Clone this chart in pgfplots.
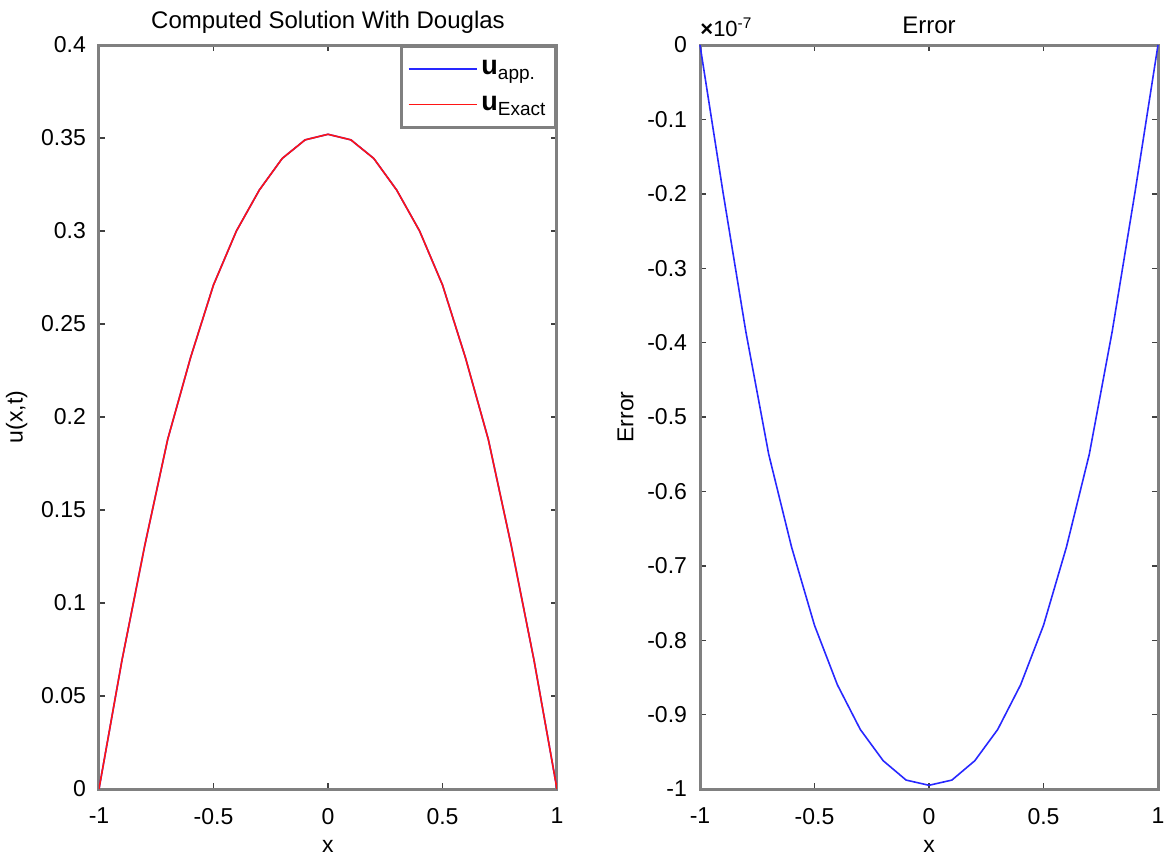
\documentclass[border=0pt]{standalone}
\usepackage{fontspec}
\setmainfont{Liberation Sans}
\usepackage{pgfplots}
\pgfplotsset{compat=1.18}
\definecolor{axgray}{RGB}{128,128,128}
\definecolor{ublue}{RGB}{40,40,255}
\definecolor{ured}{RGB}{255,20,20}
\pgfplotsset{mlab/.style={
  scale only axis, width=229pt, height=372pt,
  axis line style={axgray, line width=1.5pt},
  tick style={black!75, line width=0.7pt},
  major tick length=3pt,
  tick align=inside,
  xtick pos=both, ytick pos=both,
  xticklabel pos=bottom, yticklabel pos=left,
  xmin=-1, xmax=1,
  xtick={-1,-0.5,0,0.5,1},
  xticklabels={-1,-0.5,0,0.5,1},
  tick label style={font=\fontsize{11.5}{13}\selectfont},
  label style={font=\fontsize{11.5}{13}\selectfont},
  title style={font=\fontsize{12}{14}\selectfont, yshift=-4pt},
  xticklabel style={yshift=-6pt},
  yticklabel style={xshift=-3pt},
  xlabel={x},
  xlabel style={yshift=-1pt},
}}
\begin{document}
\begin{tikzpicture}
\path[use as bounding box] (-49.5pt,-35pt) rectangle (537pt,394.5pt);
\begin{axis}[mlab, at={(0pt,0pt)}, anchor=south west,
  title={Computed Solution With Douglas},
  ylabel={u(x,t)},
  ymin=0, ymax=0.4,
  ytick={0,0.05,0.1,0.15,0.2,0.25,0.3,0.35,0.4},
  yticklabels={0,0.05,0.1,0.15,0.2,0.25,0.3,0.35,0.4},
  legend style={at={(1,1)}, anchor=north east, draw=axgray, line width=1.5pt,
    font=\fontsize{13.5}{15}\selectfont, row sep=5pt, inner xsep=3pt, inner ysep=5pt,
    cells={anchor=west}},
  legend image code/.code={\draw[#1] (0pt,0pt) -- (34pt,0pt);},
]
\addplot[ublue, line width=0.8pt] coordinates {
(-1,0) (-0.9,0.069) (-0.8,0.131) (-0.7,0.188) (-0.6,0.232) (-0.5,0.271)
(-0.4,0.300) (-0.3,0.322) (-0.2,0.339) (-0.1,0.349) (0,0.352)
(0.1,0.349) (0.2,0.339) (0.3,0.322) (0.4,0.300) (0.5,0.271)
(0.6,0.232) (0.7,0.188) (0.8,0.131) (0.9,0.069) (1,0)};
\addlegendentry{\textbf{u}\raisebox{-0.35ex}{\fontsize{9.5}{11}\selectfont app.}}
\addplot[ured, line width=0.8pt] coordinates {
(-1,0) (-0.9,0.069) (-0.8,0.131) (-0.7,0.188) (-0.6,0.232) (-0.5,0.271)
(-0.4,0.300) (-0.3,0.322) (-0.2,0.339) (-0.1,0.349) (0,0.352)
(0.1,0.349) (0.2,0.339) (0.3,0.322) (0.4,0.300) (0.5,0.271)
(0.6,0.232) (0.7,0.188) (0.8,0.131) (0.9,0.069) (1,0)};
\addlegendentry{\textbf{u}\raisebox{-0.35ex}{\fontsize{9.5}{11}\selectfont Exact}}
\end{axis}
\begin{axis}[mlab, at={(300.5pt,0pt)}, anchor=south west,
  title={Error},
  ylabel={Error},
  ymin=-1, ymax=0,
  ytick={-1,-0.9,-0.8,-0.7,-0.6,-0.5,-0.4,-0.3,-0.2,-0.1,0},
  yticklabels={-1,-0.9,-0.8,-0.7,-0.6,-0.5,-0.4,-0.3,-0.2,-0.1,0},
  clip=false,
]
\addplot[ublue, line width=0.8pt] coordinates {
(-1,0) (-0.9,-0.197) (-0.8,-0.385) (-0.7,-0.550) (-0.6,-0.675) (-0.5,-0.780)
(-0.4,-0.860) (-0.3,-0.920) (-0.2,-0.962) (-0.1,-0.988) (0,-0.995)
(0.1,-0.988) (0.2,-0.962) (0.3,-0.920) (0.4,-0.860) (0.5,-0.780)
(0.6,-0.675) (0.7,-0.550) (0.8,-0.385) (0.9,-0.197) (1,0)};
\node[anchor=south west, inner sep=0pt, font=\fontsize{11}{13}\selectfont] at (rel axis cs:0,1) [yshift=4pt, xshift=0pt] {\textbf{×}10\textsuperscript{-7}};
\end{axis}
\end{tikzpicture}
\end{document}
